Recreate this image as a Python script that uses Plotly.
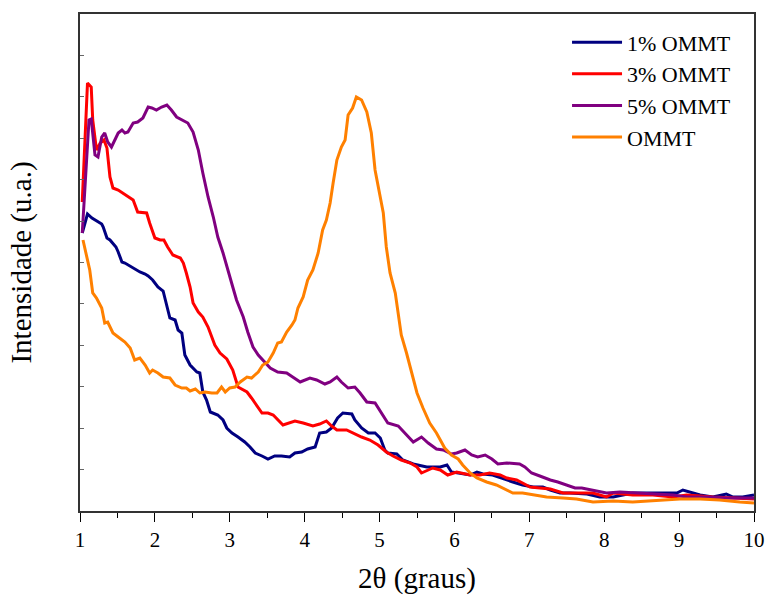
import plotly.graph_objects as go

# 2-theta (degrees) and intensity (arbitrary units)
x_1 = [1.03, 1.10, 1.16, 1.22, 1.29, 1.31, 1.36, 1.40, 1.44, 1.48, 1.51, 1.56, 1.60, 1.67, 1.73, 1.80, 1.87, 1.91, 1.97, 2.04,
       2.11, 2.16, 2.20, 2.27, 2.31, 2.36, 2.38, 2.40, 2.47, 2.56, 2.60, 2.64, 2.69, 2.74, 2.84, 2.91, 2.96, 3.03, 3.11, 3.20,
       3.27, 3.34, 3.43, 3.51, 3.60, 3.69, 3.80, 3.87, 3.96, 4.04, 4.14, 4.20, 4.29, 4.36, 4.44, 4.51, 4.63, 4.67, 4.76, 4.85,
       4.94, 5.01, 5.07, 5.11, 5.23, 5.31, 5.45, 5.63, 5.81, 5.90, 5.96, 6.07, 6.21, 6.30, 6.38, 6.51, 6.65, 6.78, 6.91, 7.05,
       7.18, 7.28, 7.41, 7.54, 7.77, 7.94, 8.12, 8.38, 8.65, 8.83, 8.97, 9.05, 9.15, 9.28, 9.45, 9.63, 9.72, 9.85, 10.0]
y_1 = [278, 297, 293, 290, 287, 284, 273, 271, 268, 264, 259, 249, 248, 245, 242, 239, 237, 235, 231, 224,
       220, 206, 193, 191, 181, 178, 168, 156, 146, 139, 138, 119, 111, 99, 96, 91, 83, 78, 74, 69,
       64, 58, 55, 52, 55, 55, 54, 58, 59, 62, 64, 78, 79, 83, 93, 98, 97, 91, 83, 78,
       78, 73, 61, 58, 57, 51, 47, 44, 44, 46, 39, 38, 36, 39, 37, 36, 32, 29, 26, 24,
       24, 21, 18, 18, 17, 14, 14, 18, 18, 18, 18, 21, 19, 16, 14, 17, 14, 14, 16]

x_3 = [1.03, 1.10, 1.15, 1.17, 1.22, 1.27, 1.32, 1.36, 1.40, 1.44, 1.51, 1.57, 1.64, 1.71, 1.77, 1.84, 1.89, 1.93, 2.00, 2.07,
       2.12, 2.17, 2.24, 2.34, 2.38, 2.42, 2.47, 2.51, 2.58, 2.64, 2.71, 2.80, 2.87, 2.96, 3.04, 3.11, 3.23, 3.29, 3.43, 3.51,
       3.58, 3.71, 3.78, 3.87, 3.98, 4.11, 4.20, 4.29, 4.36, 4.43, 4.56, 4.64, 4.76, 4.87, 4.98, 5.09, 5.18, 5.29, 5.41, 5.50,
       5.56, 5.71, 5.81, 5.91, 6.03, 6.21, 6.34, 6.47, 6.61, 6.70, 6.83, 6.91, 7.01, 7.14, 7.28, 7.45, 7.63, 7.85, 8.03, 8.12,
       8.38, 8.65, 8.92, 9.10, 9.45, 9.72, 10.0]
y_3 = [309, 428, 424, 391, 361, 368, 371, 363, 334, 323, 321, 318, 315, 311, 299, 298, 298, 288, 273, 271,
       271, 264, 256, 253, 248, 238, 224, 208, 199, 194, 184, 166, 158, 152, 141, 124, 119, 113, 98, 98,
       96, 86, 88, 90, 88, 85, 87, 90, 85, 81, 81, 78, 74, 71, 66, 59, 55, 51, 48, 44,
       38, 43, 41, 36, 39, 36, 36, 38, 36, 33, 31, 28, 24, 23, 22, 18, 18, 18, 14, 18,
       16, 16, 14, 16, 14, 13, 12]

x_5 = [1.03, 1.12, 1.15, 1.17, 1.20, 1.24, 1.29, 1.33, 1.37, 1.42, 1.47, 1.51, 1.56, 1.60, 1.64, 1.71, 1.77, 1.84, 1.91, 1.96,
       2.02, 2.09, 2.16, 2.22, 2.29, 2.36, 2.44, 2.51, 2.58, 2.64, 2.71, 2.78, 2.84, 2.91, 2.98, 3.04, 3.09, 3.18, 3.24, 3.31,
       3.38, 3.44, 3.54, 3.64, 3.76, 3.84, 3.94, 4.07, 4.16, 4.27, 4.34, 4.43, 4.49, 4.58, 4.67, 4.74, 4.83, 4.94, 5.03, 5.11,
       5.25, 5.36, 5.45, 5.56, 5.65, 5.76, 5.85, 5.96, 6.03, 6.14, 6.23, 6.31, 6.41, 6.50, 6.58, 6.70, 6.87, 6.94, 7.03, 7.14,
       7.28, 7.38, 7.50, 7.61, 7.70, 7.85, 8.03, 8.21, 8.48, 8.74, 8.92, 9.10, 9.37, 9.63, 10.0]
y_5 = [278, 391, 392, 374, 356, 354, 374, 378, 369, 364, 371, 378, 381, 378, 379, 388, 389, 393, 404, 403,
       401, 404, 406, 401, 394, 391, 388, 379, 361, 338, 314, 294, 274, 258, 241, 224, 211, 194, 179, 164,
       156, 151, 143, 139, 138, 134, 129, 133, 131, 127, 129, 134, 129, 123, 124, 118, 109, 108, 98, 88,
       85, 76, 69, 74, 68, 62, 61, 57, 58, 61, 56, 54, 56, 52, 47, 48, 47, 44, 38, 35,
       31, 29, 26, 23, 23, 21, 18, 19, 18, 17, 16, 14, 14, 13, 13]

x_o = [1.04, 1.09, 1.13, 1.17, 1.22, 1.29, 1.33, 1.37, 1.44, 1.51, 1.60, 1.67, 1.73, 1.80, 1.87, 1.93, 1.97, 2.04, 2.11, 2.20,
       2.27, 2.36, 2.42, 2.47, 2.54, 2.60, 2.67, 2.76, 2.83, 2.89, 2.94, 3.00, 3.07, 3.14, 3.23, 3.29, 3.38, 3.44, 3.51, 3.58,
       3.64, 3.69, 3.76, 3.83, 3.87, 3.91, 3.98, 4.04, 4.11, 4.18, 4.24, 4.29, 4.34, 4.38, 4.43, 4.49, 4.54, 4.58, 4.64, 4.69,
       4.76, 4.83, 4.89, 4.94, 5.01, 5.05, 5.09, 5.14, 5.21, 5.25, 5.29, 5.36, 5.43, 5.50, 5.58, 5.67, 5.76, 5.81, 5.87, 5.96,
       6.05, 6.11, 6.21, 6.30, 6.43, 6.56, 6.70, 6.78, 6.91, 7.05, 7.23, 7.45, 7.63, 7.85, 8.12, 8.38, 8.65, 9.01, 9.28, 9.54,
       9.81, 10.0]
y_o = [271, 254, 241, 218, 213, 203, 188, 189, 178, 174, 169, 163, 151, 153, 146, 138, 141, 138, 134, 133,
       126, 123, 123, 120, 122, 118, 119, 118, 118, 124, 119, 123, 124, 129, 134, 133, 139, 146, 149, 158,
       168, 169, 179, 186, 191, 203, 214, 231, 241, 258, 281, 291, 308, 328, 351, 364, 371, 396, 403, 414,
       411, 399, 378, 341, 314, 298, 264, 238, 218, 194, 176, 158, 138, 118, 103, 88, 78, 71, 63, 56,
       52, 46, 38, 33, 29, 26, 21, 18, 18, 16, 14, 13, 12, 9, 10, 9, 10, 12, 12, 11,
       9, 8]

series = [
    ("1% OMMT", x_1, y_1, "#000080"),
    ("3% OMMT", x_3, y_3, "#FF0000"),
    ("5% OMMT", x_5, y_5, "#800080"),
    ("OMMT", x_o, y_o, "#FF8000"),
]

x_ticks = [1, 2, 3, 4, 5, 6, 7, 8, 9, 10]

fig = go.Figure()
for name, xs, ys, col in series:
    fig.add_trace(go.Scatter(x=xs, y=ys, mode="lines", name=name,
                             line=dict(color=col, width=3)))

serif = "Liberation Serif, Times New Roman, serif"
fig.update_layout(
    width=767, height=597,
    margin=dict(l=80, r=13, t=14, b=86, autoexpand=False),
    plot_bgcolor="white", paper_bgcolor="white",
    font=dict(family=serif, size=21, color="black"),
    showlegend=True,
    legend=dict(x=0.7226, y=0.985, xanchor="left", yanchor="top",
                bgcolor="rgba(0,0,0,0)", font=dict(family=serif, size=22),
                tracegroupgap=0, itemwidth=50),
    xaxis=dict(range=[1, 10], tickvals=x_ticks, ticktext=[str(v) for v in x_ticks],
               ticks="outside", ticklen=9, tickwidth=1, tickcolor="black",
               showline=True, linecolor="#333333", linewidth=1.5, mirror=True,
               showgrid=False, zeroline=False, automargin=False,
               minor=dict(dtick=0.5, ticks="outside", ticklen=5, tickcolor="black"),
               title=dict(text="2θ (graus)", font=dict(family=serif, size=29), standoff=17),
               tickfont=dict(family=serif, size=21)),
    yaxis=dict(range=[0, 497], dtick=41.42, tick0=0, showticklabels=False,
               ticks="inside", ticklen=4, tickcolor="#666666",
               showline=True, linecolor="#333333", linewidth=1.5, mirror=True,
               showgrid=False, zeroline=False, automargin=False,
               title=dict(text="Intensidade (u.a.)", font=dict(family=serif, size=29), standoff=38)),
)

fig.write_html("out.html")
